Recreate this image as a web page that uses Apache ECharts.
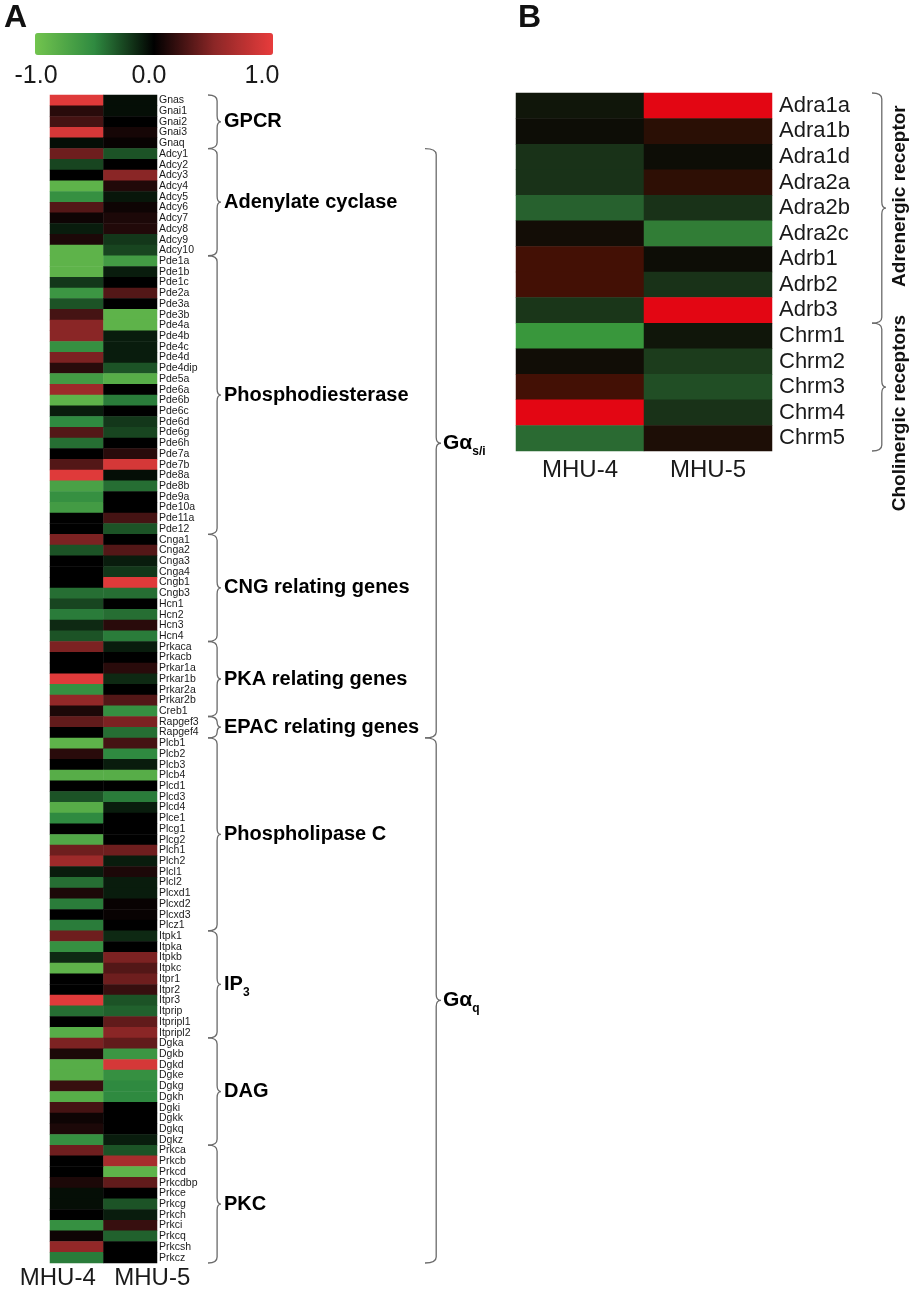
<!DOCTYPE html>
<html>
<head>
<meta charset="utf-8">
<script src="https://cdn.jsdelivr.net/npm/echarts@6/dist/echarts.min.js"></script>
<style>
  html, body { margin: 0; padding: 0; background: #fff; }
  #main { width: 913px; height: 1290px; }
</style>
</head>
<body>
<div id="main"></div>
<script>
const FONT = 'Liberation Sans, Arial, Helvetica, sans-serif';

// panel A: cAMP / Gq pathway genes (top to bottom)
const genesA = [
  'Gnas', 'Gnai1', 'Gnai2', 'Gnai3', 'Gnaq',
  'Adcy1', 'Adcy2', 'Adcy3', 'Adcy4', 'Adcy5', 'Adcy6', 'Adcy7', 'Adcy8', 'Adcy9', 'Adcy10',
  'Pde1a', 'Pde1b', 'Pde1c', 'Pde2a', 'Pde3a', 'Pde3b', 'Pde4a', 'Pde4b', 'Pde4c', 'Pde4d',
  'Pde4dip', 'Pde5a', 'Pde6a', 'Pde6b', 'Pde6c', 'Pde6d', 'Pde6g', 'Pde6h', 'Pde7a', 'Pde7b',
  'Pde8a', 'Pde8b', 'Pde9a', 'Pde10a', 'Pde11a', 'Pde12',
  'Cnga1', 'Cnga2', 'Cnga3', 'Cnga4', 'Cngb1', 'Cngb3', 'Hcn1', 'Hcn2', 'Hcn3', 'Hcn4',
  'Prkaca', 'Prkacb', 'Prkar1a', 'Prkar1b', 'Prkar2a', 'Prkar2b', 'Creb1',
  'Rapgef3', 'Rapgef4',
  'Plcb1', 'Plcb2', 'Plcb3', 'Plcb4', 'Plcd1', 'Plcd3', 'Plcd4', 'Plce1', 'Plcg1', 'Plcg2',
  'Plch1', 'Plch2', 'Plcl1', 'Plcl2', 'Plcxd1', 'Plcxd2', 'Plcxd3', 'Plcz1',
  'Itpk1', 'Itpka', 'Itpkb', 'Itpkc', 'Itpr1', 'Itpr2', 'Itpr3', 'Itprip', 'Itpripl1', 'Itpripl2',
  'Dgka', 'Dgkb', 'Dgkd', 'Dgke', 'Dgkg', 'Dgkh', 'Dgki', 'Dgkk', 'Dgkq', 'Dgkz',
  'Prkca', 'Prkcb', 'Prkcd', 'Prkcdbp', 'Prkce', 'Prkcg', 'Prkch', 'Prkci', 'Prkcq', 'Prkcsh', 'Prkcz'
];
const mhu4A = [
  0.95, 0.15, 0.25, 0.9, -0.05,
  0.4, -0.25, 0.0, -0.85, -0.55, 0.3, 0.05, -0.1, 0.1, -0.85,
  -0.85, -0.85, -0.2, -0.6, -0.3, 0.25, 0.5, 0.5, -0.55, 0.45,
  0.15, -0.65, 0.6, -0.85, -0.1, -0.5, 0.3, -0.4, 0.0, 0.3,
  0.95, -0.7, -0.55, -0.65, 0.0, 0.0,
  0.45, -0.3, 0.0, 0.0, 0.0, -0.4, -0.25, -0.45, -0.15, -0.3,
  0.45, 0.0, 0.0, 0.95, -0.55, 0.55, 0.1,
  0.35, 0.0,
  -0.85, 0.15, 0.0, -0.8, 0.0, -0.3, -0.8, -0.5, 0.0, -0.75,
  0.4, 0.6, -0.1, -0.4, 0.1, -0.45, 0.0, -0.45,
  0.4, -0.55, -0.15, -0.85, 0.0, 0.0, 0.95, -0.4, 0.0, -0.8,
  0.45, 0.1, -0.8, -0.8, 0.2, -0.8, 0.25, 0.05, 0.1, -0.55,
  0.4, 0.0, 0.0, 0.1, -0.05, -0.05, 0.0, -0.55, 0.05, 0.55, -0.45
];
const mhu5A = [
  -0.05, -0.05, 0.0, 0.08, 0.03,
  -0.3, 0.0, 0.5, 0.12, -0.08, 0.05, 0.1, 0.12, -0.2, -0.25,
  -0.65, -0.1, 0.0, 0.3, 0.0, -0.85, -0.85, -0.1, -0.1, -0.1,
  -0.3, -0.8, 0.0, -0.45, 0.0, -0.2, -0.25, 0.0, 0.15, 0.9,
  -0.05, -0.4, 0.0, 0.0, 0.25, -0.3,
  0.0, 0.3, -0.1, -0.2, 0.95, -0.4, 0.0, -0.4, 0.15, -0.45,
  -0.1, 0.0, 0.15, -0.15, 0.0, 0.3, -0.55,
  0.45, -0.4,
  0.25, -0.5, -0.1, -0.8, 0.0, -0.45, -0.1, 0.0, 0.0, 0.0,
  0.4, -0.1, 0.1, -0.1, -0.1, 0.03, 0.03, 0.0,
  -0.15, 0.0, 0.45, 0.3, 0.4, 0.2, -0.3, -0.35, 0.35, 0.5,
  0.35, -0.6, 0.9, -0.55, -0.5, -0.5, 0.0, 0.0, 0.0, -0.1,
  -0.3, 0.65, -0.85, 0.35, 0.0, -0.3, -0.1, 0.2, -0.35, 0.0, 0.0
];
// first-level groups: [label, subscript, first gene, last gene]
const groupsA = [
  ['GPCR', '', 'Gnas', 'Gnaq'],
  ['Adenylate cyclase', '', 'Adcy1', 'Adcy10'],
  ['Phosphodiesterase', '', 'Pde1a', 'Pde12'],
  ['CNG relating genes', '', 'Cnga1', 'Hcn4'],
  ['PKA relating genes', '', 'Prkaca', 'Creb1'],
  ['EPAC relating genes', '', 'Rapgef3', 'Rapgef4'],
  ['Phospholipase C', '', 'Plcb1', 'Plcz1'],
  ['IP', '3', 'Itpk1', 'Itpripl2'],
  ['DAG', '', 'Dgka', 'Dgkz'],
  ['PKC', '', 'Prkca', 'Prkcz']
];
const pathwaysA = [
  ['Gα', 's/i', 'Adcy1', 'Rapgef4'],
  ['Gα', 'q', 'Plcb1', 'Prkcz']
];

// panel B: receptors
const genesB = ['Adra1a', 'Adra1b', 'Adra1d', 'Adra2a', 'Adra2b', 'Adra2c', 'Adrb1', 'Adrb2', 'Adrb3',
  'Chrm1', 'Chrm2', 'Chrm3', 'Chrm4', 'Chrm5'];
const mhu4B = [-0.05, 0.0, -0.2, -0.2, -0.45, 0.03, 0.28, 0.28, -0.22, -0.85, 0.02, 0.28, 1.0, -0.5];
const mhu5B = [1.0, 0.15, 0.0, 0.17, -0.2, -0.65, 0.0, -0.2, 1.0, -0.05, -0.25, -0.35, -0.2, 0.08];
const groupsB = [
  ['Adrenergic receptor', 'Adra1a', 'Adrb3'],
  ['Cholinergic receptors', 'Chrm1', 'Chrm5']
];

const samples = ['MHU-4', 'MHU-5'];
const scaleTicks = [-1, 0, 1];

function cells(genes, v4, v5) {
  const out = [];
  genes.forEach((g, i) => { out.push([0, i, v4[i]]); out.push([1, i, v5[i]]); });
  return out;
}

// curly brace opening to the left, nub pointing right
function bracePath(x, y1, y2, d) {
  const xv = x + d * 0.7, xn = x + d, ym = (y1 + y2) / 2;
  const r = Math.min(6, (y2 - y1) / 4);
  return 'M' + x + ',' + y1 + 'Q' + xv + ',' + y1 + ' ' + xv + ',' + (y1 + r) +
    'L' + xv + ',' + (ym - r) + 'Q' + xv + ',' + ym + ' ' + xn + ',' + ym +
    'Q' + xv + ',' + ym + ' ' + xv + ',' + (ym + r) +
    'L' + xv + ',' + (y2 - r) + 'Q' + xv + ',' + y2 + ' ' + x + ',' + y2;
}

function braceSeries(gridIdx, groups, genes, off, depth, kind) {
  return {
    type: 'custom',
    xAxisIndex: gridIdx, yAxisIndex: gridIdx,
    silent: true, clip: false,
    data: groups.map(g => [0, genes.indexOf(g[g.length - 2]), genes.indexOf(g[g.length - 1])]),
    encode: { x: 0, y: [1, 2] },
    renderItem: (params, api) => {
      const g = groups[params.dataIndex];
      const band = api.size([1, 1])[1];
      const top = api.coord([0, api.value(1)])[1] - band / 2;
      const bot = api.coord([0, api.value(2)])[1] + band / 2;
      const cs = params.coordSys;
      const x = cs.x + cs.width + off;
      const ym = (top + bot) / 2;
      const children = [{
        type: 'path',
        shape: { pathData: bracePath(x, top, bot, depth) },
        style: { fill: 'none', stroke: '#6a6a6a', lineWidth: 1.3 }
      }];
      if (kind === 'vertical') {
        const shift = params.dataIndex === 0 ? -12 : 26;
        children.push({
          type: 'text', x: x + 28, y: ym + shift, rotation: Math.PI / 2,
          style: { text: g[0], fontFamily: FONT, fontSize: 19, fontWeight: 'bold', fill: '#111',
            textAlign: 'center', textVerticalAlign: 'middle' }
        });
      } else {
        const big = kind === 'pathway' ? 21 : 20;
        children.push({
          type: 'text', x: x + depth + (kind === 'pathway' ? 2 : 3), y: ym,
          style: {
            text: g[1] ? '{m|' + g[0] + '}{s|' + g[1] + '}' : '{m|' + g[0] + '}',
            rich: {
              m: { fontFamily: FONT, fontSize: big, fontWeight: 'bold', color: '#111', lineHeight: 28 },
              s: { fontFamily: FONT, fontSize: 12, fontWeight: 'bold', color: '#111', lineHeight: 10, verticalAlign: 'bottom' }
            },
            textAlign: 'left', textVerticalAlign: 'middle'
          }
        });
      }
      return { type: 'group', children };
    }
  };
}

const chart = echarts.init(document.getElementById('main'));

chart.setOption({
  backgroundColor: '#fff',
  animation: false,
  grid: [
    { left: 50, top: 95, width: 107, height: 1168 },
    { left: 516, top: 93, width: 256, height: 358 },
    { left: 36, top: 55, width: 226, height: 1 }
  ],
  xAxis: [
    {
      gridIndex: 0, type: 'category',
      data: [
        { value: samples[0], textStyle: { padding: [0, 38, 0, 0] } },
        { value: samples[1], textStyle: { padding: [0, 0, 0, 44] } }
      ],
      axisLine: { show: false }, axisTick: { show: false }, splitLine: { show: false },
      axisLabel: { fontFamily: FONT, fontSize: 24, color: '#1a1a1a', margin: 3, interval: 0 }
    },
    {
      gridIndex: 1, type: 'category', data: samples,
      axisLine: { show: false }, axisTick: { show: false },
      axisLabel: { fontFamily: FONT, fontSize: 24, color: '#1a1a1a', margin: 7, interval: 0 }
    },
    {
      gridIndex: 2, type: 'value', min: scaleTicks[0], max: scaleTicks[2], interval: 1,
      axisLine: { show: false }, axisTick: { show: false }, splitLine: { show: false },
      axisLabel: { fontFamily: FONT, fontSize: 25, color: '#1a1a1a', margin: 8,
        formatter: v => v.toFixed(1) }
    }
  ],
  yAxis: [
    {
      gridIndex: 0, type: 'category', data: genesA, inverse: true, position: 'right',
      axisLine: { show: false }, axisTick: { show: false },
      axisLabel: { fontFamily: FONT, fontSize: 10.5, color: '#1a1a1a', margin: 2, interval: 0 }
    },
    {
      gridIndex: 1, type: 'category', data: genesB, inverse: true, position: 'right',
      axisLine: { show: false }, axisTick: { show: false },
      axisLabel: { fontFamily: FONT, fontSize: 22, color: '#1a1a1a', margin: 7, interval: 0 }
    },
    { gridIndex: 2, type: 'value', show: false }
  ],
  visualMap: [
    {
      type: 'continuous', seriesIndex: 0, min: -1, max: 1,
      orient: 'horizontal', left: 35, top: 33, padding: 0,
      itemWidth: 22, itemHeight: 238, calculable: false, hoverLink: false,
      inRange: { color: ['#72c44e', '#2f8a40', '#000000', '#8a2626', '#e83c3c'] }
    },
    {
      type: 'continuous', seriesIndex: 1, min: -1, max: 1, show: false,
      inRange: { color: ['#40aa40', '#2a6a32', '#0d0d06', '#6e1204', '#e30613'] }
    }
  ],
  series: [
    { type: 'heatmap', xAxisIndex: 0, yAxisIndex: 0, data: cells(genesA, mhu4A, mhu5A), silent: true },
    { type: 'heatmap', xAxisIndex: 1, yAxisIndex: 1, data: cells(genesB, mhu4B, mhu5B), silent: true },
    braceSeries(0, groupsA, genesA, 51, 13, 'group'),
    braceSeries(0, pathwaysA, genesA, 268, 16, 'pathway'),
    braceSeries(1, groupsB, genesB, 100, 14, 'vertical')
  ],
  graphic: [
    { type: 'text', left: 4, top: 2, style: { text: 'A', fontFamily: FONT, fontSize: 32, fontWeight: 'bold', fill: '#111' } },
    { type: 'text', left: 518, top: 2, style: { text: 'B', fontFamily: FONT, fontSize: 32, fontWeight: 'bold', fill: '#111' } }
  ]
});
</script>
</body>
</html>
